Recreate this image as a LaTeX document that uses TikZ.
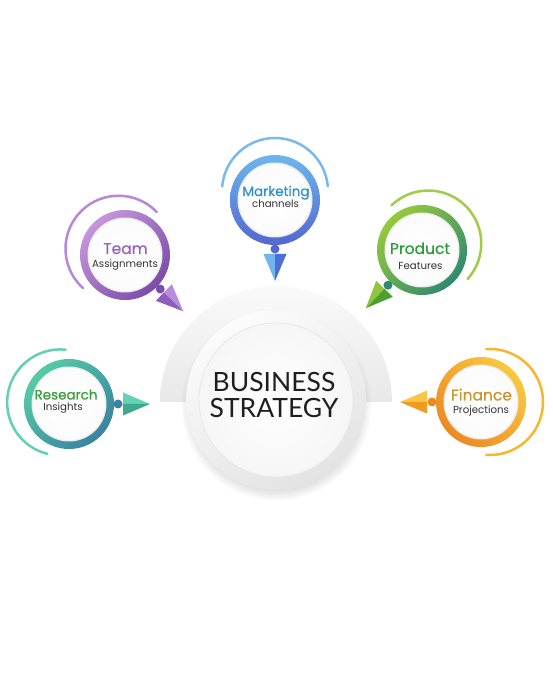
\documentclass[tikz,border=0pt]{standalone}
\usepackage{fontspec}
\setmainfont{Lato}
\newfontfamily\titlefont[FakeBold=0.4]{Poppins}
\newfontfamily\subfont{Poppins}
\newfontfamily\centerfont{Lato}
\usetikzlibrary{calc,shadows}
\definecolor{teamL}{HTML}{C596DA}\definecolor{teamD}{HTML}{7B4DA8}\definecolor{teamA}{HTML}{B987D6}
\definecolor{teamTL}{HTML}{B68DD8}\definecolor{teamTD}{HTML}{8E5DBE}\definecolor{teamT}{HTML}{9A5FBF}
\definecolor{mkL}{HTML}{6DB6EC}\definecolor{mkD}{HTML}{5467CF}\definecolor{mkA}{HTML}{78B9EE}
\definecolor{mkTL}{HTML}{72B5EE}\definecolor{mkTD}{HTML}{4C6FD3}\definecolor{mkT}{HTML}{2D8FD6}
\definecolor{prL}{HTML}{97C93D}\definecolor{prD}{HTML}{2F8A6F}\definecolor{prA}{HTML}{9FCD45}
\definecolor{prTL}{HTML}{8EC63F}\definecolor{prTD}{HTML}{4E9E32}\definecolor{prT}{HTML}{2B9A38}
\definecolor{reL}{HTML}{56CBA6}\definecolor{reD}{HTML}{3A83A2}\definecolor{reA}{HTML}{62D1B0}
\definecolor{reTL}{HTML}{64D3B5}\definecolor{reTD}{HTML}{3DA98F}\definecolor{reT}{HTML}{3B9B3B}
\definecolor{fiL}{HTML}{F9C840}\definecolor{fiD}{HTML}{EC8A22}\definecolor{fiA}{HTML}{F8B62C}
\definecolor{fiTL}{HTML}{FBC54C}\definecolor{fiTD}{HTML}{F29A1E}\definecolor{fiT}{HTML}{C8962C}
\definecolor{subT}{HTML}{333333}
\tikzset{
  titletext/.style={anchor=base, inner sep=0pt},
  subtext/.style={anchor=base, inner sep=0pt, text=subT, font=\subfont\fontsize{10.2}{11}\selectfont},
  centertext/.style={anchor=base, inner sep=0pt, text=black!88, font=\centerfont\fontsize{26.5}{28}\selectfont}
}
\begin{document}
\begin{tikzpicture}[x=1pt,y=1pt]
\useasboundingbox[fill=white] (0,0) rectangle (552,690);
\coordinate (C) at (276,290);
% half disc behind the centre
\shade[top color=gray!4, bottom color=gray!18] (160,288) arc[start angle=180,end angle=0,radius=116] -- cycle;
% main circle
\path[circular drop shadow={shadow xshift=0pt,shadow yshift=-5pt,opacity=0.3,shadow scale=1.06},
      top color=gray!3, bottom color=gray!22, shading angle=30] (C) circle[radius=90];
\shade[inner color=white, outer color=gray!7] (C) circle[radius=77];
\draw[gray!18, line width=0.8pt] (C) circle[radius=77];
\node[centertext] (bus) at (274,298) {BUSINESS};
\node[centertext] (str) at (274,272) {STRATEGY};
% satellites
\foreach \n/\x/\y/\ao/\as/\sa/\rl/\rd/\ac/\d/\tl/\td/\ls in {
  T/125/435/136/92/45/teamL/teamD/teamA/-44/teamTL/teamTD/1,
  M/275/490/90/85/0/mkL/mkD/mkA/-90/mkTL/mkTD/-1,
  P/422/440/46/88/45/prL/prD/prA/-134/prTL/prTD/-1,
  R/69/286/170/86/45/reL/reD/reA/0/reTL/reTD/1,
  F/481/288/0/94/-45/fiL/fiD/fiA/180/fiTL/fiTD/-1}
{
  \coordinate (\n) at (\x,\y);
  \draw[\ac, line width=2.5pt, line cap=round] ($(\n)+(\ao:9)$) ++({\ao-\as}:53)
      arc[start angle={\ao-\as}, end angle={\ao+\as}, radius=53];
  \shade[top color=\rl, bottom color=\rd, shading angle=\sa] (\n) circle[radius=45];
  \fill[gray!14] (\n) circle[radius=37.5];
  \shade[inner color=white, outer color=gray!3] (\n) circle[radius=36];
  \fill[\rd] ($(\n)+(\d:49)$) circle[radius=4.5];
  \fill[\tl] ($(\n)+(\d:81)$) -- ($(\n)+(\d:54)+({\d+90*(\ls)}:11.5)$) -- ($(\n)+(\d:54)$) -- cycle;
  \fill[\td] ($(\n)+(\d:81)$) -- ($(\n)+(\d:54)+({\d-90*(\ls)}:11.5)$) -- ($(\n)+(\d:54)$) -- cycle;
}
% labels
\node[titletext, text=teamT, font=\titlefont\fontsize{15.5}{17}\selectfont] (tt) at (125.5,436) {Team};
\node[subtext] (ts) at (125,422) {Assignments};
\node[titletext, text=mkT, font=\titlefont\fontsize{13.5}{15}\selectfont] (mt) at (276,494) {Marketing};
\node[subtext] (ms) at (275.5,482.5) {channels};
\node[titletext, text=prT, font=\titlefont\fontsize{15.5}{17}\selectfont] (pt) at (420,436) {Product};
\node[subtext] (ps) at (420.5,420.5) {Features};
\node[titletext, text=reT, font=\titlefont\fontsize{13.5}{15}\selectfont] (rt) at (66,290.5) {Research};
\node[subtext] (rs) at (63,279) {Insights};
\node[titletext, text=fiT, font=\titlefont\fontsize{15.5}{17}\selectfont] (ft) at (481.5,289.5) {Finance};
\node[subtext] (fs) at (481,276) {Projections};
\end{tikzpicture}
\end{document}
